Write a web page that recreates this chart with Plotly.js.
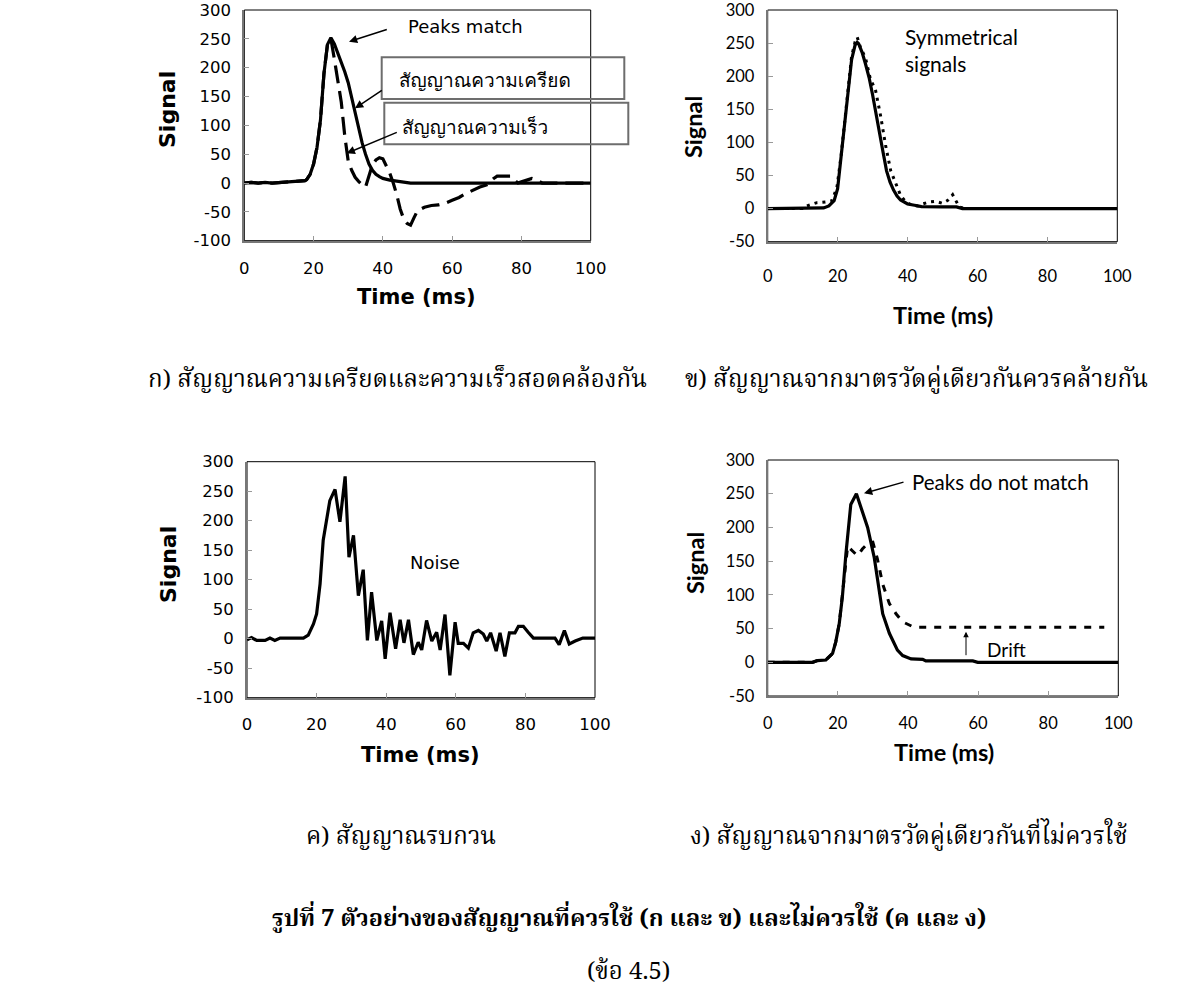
<!DOCTYPE html>
<html><head><meta charset="utf-8">
<script src="https://cdn.plot.ly/plotly-3.0.1.min.js"></script>
<style>html,body{margin:0;padding:0;background:#fff}#chart{width:1200px;height:1004px}</style>
</head><body><div id="chart"></div>
<script>
// ---------- data ----------
var xTickVals = [0, 20, 40, 60, 80, 100];
var xTickText = ["0", "20", "40", "60", "80", "100"];
var yTickValsAC = [-100, -50, 0, 50, 100, 150, 200, 250, 300];
var yTickTextAC = ["-100", "-50", "0", "50", "100", "150", "200", "250", "300"];
var yTickValsBD = [-50, 0, 50, 100, 150, 200, 250, 300];
var yTickTextBD = ["-50", "0", "50", "100", "150", "200", "250", "300"];

// (a) strain signal (solid) and velocity signal (dashed)
var aTimeStrain = [0,2,4,6,8,10,12,14,16,17.5,18,19,20,21,22,23,24,25,26,27,28,29,30,31,32,33,34,35,36,37,38,39,40,42,44,46,48,60,70,80,90,100];
var aStrain     = [0,1,0,1,0,1,2,2,3,4,6,15,33,62,110,190,240,252,241,226,210,193,174,148,120,95,70,50,33,22,15,11,8,5,3,1,0,0,0,0,0,0];
var aTimeVel = [0,2,4,6,8,10,12,14,16,17.5,18,19,20,21,22,23,24,25,26,27,28,29,30,31,32,33,34,35,36,37,38,39,40,41,42,43,44,45,46,47,48,49,50,52,54,56,58,60,62,64,66,68,70,71,72,73,75,77,78,79,80,82,83,84,86,88,90,95,100];
var aVel     = [0,1,0,1,0,1,2,2,3,4,6,15,33,62,110,190,240,250,215,180,140,82,38,22,10,3,-3,-7,12,32,40,44,42,30,17,0,-20,-45,-62,-70,-73,-60,-48,-42,-39,-38,-35,-30,-25,-18,-12,-7,-3,3,8,12,12,12,5,0,2,6,8,6,0,0,0,0,0];

// (b) two signals from the same gauge pair
var bTime1 = [0,5,10,14.5,16,17.5,19,20,21,22,23,24,25,25.6,26,27,28,29,30,31,32,33,34,35,36,37,38,39,40,42,44,50,54,55.7,60,70,80,90,100];
var bSig1  = [0,0,0,0,1,4,12,30,78,125,180,225,247,251,249,236,218,198,172,145,115,85,57,40,28,19,13,10,7,5,3,2.5,2.5,0,0,0,0,0,0];
var bTime2 = [0,5,10,11.2,12.5,14.1,16.5,18.4,19.8,21,22,23,24,25,25.6,26.5,28,29.4,30.8,32.3,33.7,35.2,36.6,38,39.5,41.4,43,44.3,46.2,48.1,50,51.4,52.9,53.8,54.8,56.7,60,70,80,90,100];
var bSig2  = [0,0,0,4,6,9,10,12,32,80,130,185,230,252,259,244,227,195,180,140,96,57,37,20,10,5,4,7,10,11,8,12,21,12,2.5,0,0,0,0,0,0];

// (c) noisy signal
var cTime = [0,1.3,2.8,5.2,6.6,8,9.5,16.2,17.6,19.1,20,21,21.9,22.9,23.8,25.3,26.7,28.2,29.3,30.6,32,33.4,34.6,35.8,37.3,38.7,39.7,41.1,42.7,44,45.1,46.4,47.8,49.2,50.2,51.6,53.1,54.5,55.5,56.9,58.3,59.8,60.7,62.2,63.6,65,66.5,67.9,68.9,70,71.6,72.7,74.1,75.4,77,78,79.4,80.8,82.3,88.5,89.7,91.2,92.6,94.3,96.5,100];
var cSig  = [-2,2,-3,-3,1,-3,1,1,6,25,42,93,167,206,234,253,198,275,138,175,73,117,-3,79,-3,30,-34,44,-17,32,-7,32,-27,-6,-19,31,-4,11,-19,41,-62,28,-8,-8,-16,10,14,8,-4,10,-21,10,-30,10,10,21,21,11,1,1,-10,14,-9,-4,1,1];

// (d) signals from the same gauge pair that should not be used
var dTime1 = [0,5,10,12.8,14.2,16.6,18.5,19.4,20.4,21.3,22.3,23.7,25.3,26.6,28.5,30.4,32.8,34.7,37,38.5,40.9,44.2,45.1,50,58.5,59.9,70,80,90,100];
var dSig1  = [0,0,0,0,2.5,3.4,13,30,57,97,160,234,250,229,200,155,72,43,18,10,5,4.4,2,2,2,0,0,0,0,0];
var dTime2 = [0,5,10,12.8,14.2,16.6,18.5,19.4,20.4,21.3,22.8,24.2,25.6,27,28.5,30,31.3,32.8,34.7,36.6,38.5,41.3,42.8,50,60,70,80,90,96];
var dSig2  = [0,0,0,0,2.5,3.4,13,30,57,97,172,165,158,168,176,178,153,116,87,72,60,53,52,52,52,52,52,52,52];

// ---------- layout helpers ----------
var W = 1200, H = 1004;
function px(x){ return x / W; }
function py(y){ return 1 - y / H; }

var FA = "DejaVu Sans, Verdana, sans-serif";
var FB = "Lato, Open Sans, sans-serif";
var FTH = "Tahoma, Loma, Garuda, Noto Sans Thai, DejaVu Sans, sans-serif";
var FTHS = "Angsana New, Kinnari, Norasi, TH Sarabun New, Noto Serif Thai, Liberation Serif, serif";

var traces = [
  {x: aTimeStrain, y: aStrain, xaxis: 'x', yaxis: 'y', mode: 'lines', line: {color: '#000', width: 3.2}},
  {x: aTimeVel, y: aVel, xaxis: 'x', yaxis: 'y', mode: 'lines', line: {color: '#000', width: 3.2, dash: '18px,8px'}},
  {x: bTime1, y: bSig1, xaxis: 'x2', yaxis: 'y2', mode: 'lines', line: {color: '#000', width: 3.2}},
  {x: bTime2, y: bSig2, xaxis: 'x2', yaxis: 'y2', mode: 'lines', line: {color: '#000', width: 3, dash: '3px,5px'}},
  {x: cTime, y: cSig, xaxis: 'x3', yaxis: 'y3', mode: 'lines', line: {color: '#000', width: 3.2}},
  {x: dTime1, y: dSig1, xaxis: 'x4', yaxis: 'y4', mode: 'lines', line: {color: '#000', width: 3.2}},
  {x: dTime2, y: dSig2, xaxis: 'x4', yaxis: 'y4', mode: 'lines', line: {color: '#000', width: 3, dash: '7px,8px'}}
];

function xAx(l, r, font, standoff){
  return {domain: [px(l), px(r)], range: [0, 100], tickvals: xTickVals, ticktext: xTickText,
    ticks: 'inside', ticklen: 5, tickcolor: '#999', showgrid: false, zeroline: false,
    showline: true, linecolor: '#777', linewidth: 2, tickfont: {family: font, size: 16.5, color: '#000'},
    ticklabelstandoff: standoff, ticklabeloverflow: 'allow', fixedrange: true};
}
function yAx(t, b, rng, vals, txt, font, anchor){
  return {domain: [py(b), py(t)], range: rng, tickvals: vals, ticktext: txt, anchor: anchor,
    ticks: 'inside', ticklen: 5, tickcolor: '#999', showgrid: false, zeroline: false,
    showline: true, linecolor: '#777', linewidth: 2, tickfont: {family: font, size: 16.5, color: '#000'},
    ticklabelstandoff: 8, ticklabeloverflow: 'allow', fixedrange: true};
}

var layout = {
  width: W, height: H, margin: {l: 0, r: 0, t: 0, b: 0}, showlegend: false,
  paper_bgcolor: '#fff', plot_bgcolor: 'rgba(0,0,0,0)',
  xaxis:  Object.assign(xAx(244.3, 590.7, FA, 11), {anchor: 'y'}),
  yaxis:  yAx(10, 240.7, [-100, 300], yTickValsAC, yTickTextAC, FA, 'x'),
  xaxis2: Object.assign(xAx(767.7, 1117.3, FB, 18), {anchor: 'y2'}),
  yaxis2: yAx(10, 241.7, [-50, 300], yTickValsBD, yTickTextBD, FB, 'x2'),
  xaxis3: Object.assign(xAx(247, 595, FA, 10), {anchor: 'y3'}),
  yaxis3: yAx(461.7, 697.7, [-100, 300], yTickValsAC, yTickTextAC, FA, 'x3'),
  xaxis4: Object.assign(xAx(767.7, 1118.3, FB, 11), {anchor: 'y4'}),
  yaxis4: yAx(460, 696, [-50, 300], yTickValsBD, yTickTextBD, FB, 'x4'),
  shapes: [],
  annotations: []
};

// frames
[['x','y'],['x2','y2'],['x3','y3'],['x4','y4']].forEach(function(p){
  layout.shapes.push({type: 'rect', xref: p[0] + ' domain', yref: p[1] + ' domain', x0: 0, x1: 1, y0: 0, y1: 1,
    line: {color: '#000', width: 1}, layer: 'below'});
});
// boxes in panel (a)
layout.shapes.push({type: 'rect', xref: 'paper', yref: 'paper', x0: px(381.7), x1: px(624.3), y0: py(99), y1: py(57.3), line: {color: '#6d6d6d', width: 2}});
layout.shapes.push({type: 'rect', xref: 'paper', yref: 'paper', x0: px(384.3), x1: px(628.3), y0: py(144.3), y1: py(102.7), line: {color: '#6d6d6d', width: 2}});

function txt(t, x, y, font, size, opts){
  var a = {text: t, xref: 'paper', yref: 'paper', x: px(x), y: py(y), showarrow: false,
    xanchor: 'center', yanchor: 'middle', font: {family: font, size: size, color: '#000'}};
  return Object.assign(a, opts || {});
}
function arrow(hx, hy, tx, ty, w){
  return {text: '', xref: 'paper', yref: 'paper', x: px(hx), y: py(hy), ax: tx - hx, ay: ty - hy,
    showarrow: true, arrowhead: 2, arrowsize: 1.1, arrowwidth: w || 1.5, arrowcolor: '#000', standoff: 0, startstandoff: 0};
}

var A = layout.annotations;
// axis titles
A.push(txt('<b>Signal</b>', 167, 110, FA, 22, {textangle: -90}));
A.push(txt('<b>Time (ms)</b>', 417, 297, FA, 21));
A.push(txt('<b>Signal</b>', 693, 127, FB, 23.5, {textangle: -90}));
A.push(txt('<b>Time (ms)</b>', 943, 315, FB, 23.5));
A.push(txt('<b>Signal</b>', 168, 565, FA, 22, {textangle: -90}));
A.push(txt('<b>Time (ms)</b>', 420, 755, FA, 21));
A.push(txt('<b>Signal</b>', 695, 563, FB, 23.5, {textangle: -90}));
A.push(txt('<b>Time (ms)</b>', 944, 752, FB, 23.5));

// panel (a) notes
A.push(txt('Peaks match', 406, 27, FA, 18, {xanchor: 'left'}));
A.push(arrow(349, 41.7, 388.3, 29));
A.push(txt('สัญญาณความเครียด', 397, 80, FTH, 19, {xanchor: 'left'}));
A.push(arrow(355, 108.3, 383.3, 89.3));
A.push(txt('สัญญาณความเร็ว', 400, 127, FTH, 19, {xanchor: 'left'}));
A.push(arrow(346.7, 153.3, 398.3, 131.7));
// panel (b)
A.push(txt('Symmetrical<br>signals', 903, 50, FB, 21, {xanchor: 'left', align: 'left'}));
// panel (c)
A.push(txt('Noise', 408, 562, FA, 18, {xanchor: 'left'}));
// panel (d)
A.push(txt('Peaks do not match', 910, 481.7, FB, 20.5, {xanchor: 'left'}));
A.push(arrow(864, 493.3, 905, 481.7));
A.push(txt('Drift', 985, 649, FB, 19, {xanchor: 'left'}));
A.push(arrow(966, 631.7, 966, 656.7, 1));

// captions
A.push(txt('ก) สัญญาณความเครียดและความเร็วสอดคล้องกัน', 397, 380, FTHS, 24));
A.push(txt('ข) สัญญาณจากมาตรวัดคู่เดียวกันควรคล้ายกัน', 916, 380, FTHS, 24));
A.push(txt('ค) สัญญาณรบกวน', 401, 837, FTHS, 24));
A.push(txt('ง) สัญญาณจากมาตรวัดคู่เดียวกันที่ไม่ควรใช้', 909, 837, FTHS, 24));
A.push(txt('<b>รูปที่ 7 ตัวอย่างของสัญญาณที่ควรใช้ (ก และ ข) และไม่ควรใช้ (ค และ ง)</b>', 629, 920, FTHS, 23.5));
A.push(txt('(ข้อ 4.5)', 628, 972, FTHS, 24));

Plotly.newPlot('chart', traces, layout, {displayModeBar: false, staticPlot: true});
</script>
</body></html>
